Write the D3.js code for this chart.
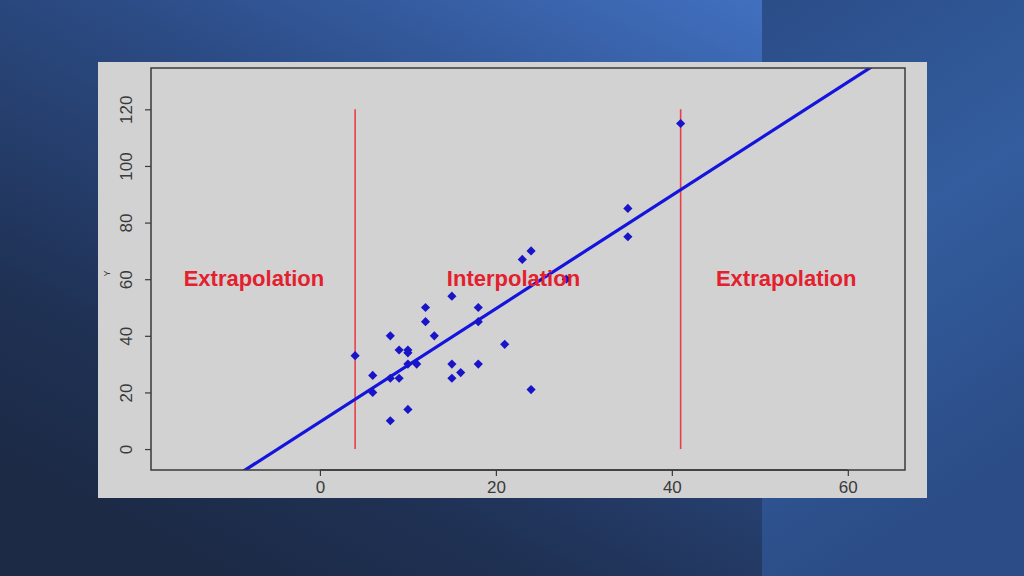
<!DOCTYPE html>
<html>
<head>
<meta charset="utf-8">
<script src="https://cdn.jsdelivr.net/npm/d3@7"></script>
<style>
  body { margin: 0; background: #1e2f50; }
  svg { display: block; }
</style>
</head>
<body>
<div class="graph"></div>
<script>
var xs = [4, 6, 6, 8, 8, 8, 9, 9, 10, 10, 10, 10, 11, 12, 12, 13, 15, 15, 15, 16, 18, 18, 18, 21, 23, 24, 24, 28, 35, 35, 41]
var ys = [33, 26, 20, 40, 10, 25, 35, 25, 35, 34, 30, 14, 30, 50, 45, 40, 54, 30, 25, 27, 50, 45, 30, 37, 67, 70, 21, 60, 85, 75, 115]
var xTicks = [0, 20, 40, 60]
var yTicks = [0, 20, 40, 60, 80, 100, 120]
var cutoffs = [4, 41]
var fitIntercept = 9.6
var fitSlope = 2.0
var labels = ["Extrapolation", "Interpolation", "Extrapolation"]
var labelX = [-7.5, 22, 53]
var labelY = 60

var w = 1024
var h = 576

var svg = d3.select('.graph')
  .append("svg")
  .attr("width", w)
  .attr("height", h)

var defs = svg.append("defs")
var g1 = defs.append("linearGradient").attr("id", "bgLeft")
  .attr("x1", "1").attr("y1", "0").attr("x2", "0.3").attr("y2", "1")
g1.append("stop").attr("offset", "0").attr("stop-color", "#4170c0")
g1.append("stop").attr("offset", "0.4").attr("stop-color", "#2c4c86")
g1.append("stop").attr("offset", "0.8").attr("stop-color", "#1f3154")
g1.append("stop").attr("offset", "1").attr("stop-color", "#1c2a46")
var g2 = defs.append("linearGradient").attr("id", "bgRight")
  .attr("x1", "0").attr("y1", "0").attr("x2", "0.3").attr("y2", "1")
g2.append("stop").attr("offset", "0").attr("stop-color", "#2b4d88")
g2.append("stop").attr("offset", "0.5").attr("stop-color", "#335d9e")
g2.append("stop").attr("offset", "1").attr("stop-color", "#2b4c86")
defs.append("clipPath").attr("id", "plotClip")
  .append("rect").attr("x", 151).attr("y", 68).attr("width", 754).attr("height", 402)

svg.append("rect").attr("width", 762).attr("height", h).attr("fill", "url(#bgLeft)")
svg.append("rect").attr("x", 762).attr("width", w - 762).attr("height", h).attr("fill", "url(#bgRight)")

// grey picture panel
svg.append("rect")
  .attr("x", 98).attr("y", 62)
  .attr("width", 829).attr("height", 436)
  .attr("fill", "#d2d2d2")

var x = d3.scaleLinear().domain([-19.2, 66.5]).range([151, 905])
var y = d3.scaleLinear().domain([-7.4, 134.6]).range([470, 68])

var plot = svg.append("g").attr("clip-path", "url(#plotClip)")

plot.selectAll("line.cut")
  .data(cutoffs)
  .enter()
  .append("line")
  .attr("class", "cut")
  .attr("x1", function(d){ return x(d) })
  .attr("x2", function(d){ return x(d) })
  .attr("y1", y(0))
  .attr("y2", y(120))
  .attr("stroke", "#e8404a")
  .attr("stroke-width", 1.6)

plot.append("line")
  .attr("x1", x(x.domain()[0]))
  .attr("y1", y(fitIntercept + fitSlope * x.domain()[0]))
  .attr("x2", x(x.domain()[1]))
  .attr("y2", y(fitIntercept + fitSlope * x.domain()[1]))
  .attr("stroke", "#1414dc")
  .attr("stroke-width", 3.2)

// R pch 18: filled diamond, same width and height
plot.selectAll("path.pt")
  .data(xs)
  .enter()
  .append("path")
  .attr("class", "pt")
  .attr("d", d3.symbol().type(d3.symbolSquare).size(42))
  .attr("transform", function(d, i){
    return "translate(" + x(d) + "," + y(ys[i]) + ") rotate(45)"
  })
  .attr("fill", "#1a14c8")

svg.selectAll("text.zone")
  .data(labels)
  .enter()
  .append("text")
  .attr("class", "zone")
  .text(function(d){ return d })
  .attr("x", function(d, i){ return x(labelX[i]) })
  .attr("y", y(labelY) + 7)
  .attr("text-anchor", "middle")
  .attr("font-family", "Liberation Sans, Arial, sans-serif")
  .attr("font-weight", "bold")
  .attr("font-size", 22)
  .attr("fill", "#e3202e")

svg.append("rect")
  .attr("x", 151).attr("y", 68)
  .attr("width", 754).attr("height", 402)
  .attr("fill", "none")
  .attr("stroke", "#3a3a3a")
  .attr("stroke-width", 1.5)

var xAxis = svg.append("g")
  .attr("transform", "translate(0,470)")
  .call(d3.axisBottom(x).tickValues(xTicks).tickSize(6).tickPadding(5))
xAxis.select(".domain").attr("stroke", "#3a3a3a").attr("stroke-width", 1.5)
  .attr("d", "M" + x(0) + ",0H" + x(60))
xAxis.selectAll("line").attr("stroke", "#3a3a3a").attr("stroke-width", 1.2)
xAxis.selectAll("text")
  .attr("font-family", "Liberation Sans, Arial, sans-serif")
  .attr("font-size", 17)
  .attr("fill", "#3a3a3a")

var yAxis = svg.append("g")
  .attr("transform", "translate(151,0)")
  .call(d3.axisLeft(y).tickValues(yTicks).tickSize(6))
yAxis.select(".domain").remove()
yAxis.selectAll("line").attr("stroke", "#3a3a3a").attr("stroke-width", 1.2)
yAxis.selectAll("text")
  .attr("x", 0)
  .attr("dy", null)
  .attr("text-anchor", "middle")
  .attr("transform", "translate(-23,0) rotate(-90)")
  .attr("dominant-baseline", "middle")
  .attr("font-family", "Liberation Sans, Arial, sans-serif")
  .attr("font-size", 17)
  .attr("fill", "#3a3a3a")

svg.append("text")
  .text("Y")
  .attr("transform", "translate(108," + y(62) + ") rotate(-90)")
  .attr("text-anchor", "middle")
  .attr("dominant-baseline", "middle")
  .attr("font-family", "Liberation Sans, Arial, sans-serif")
  .attr("font-size", 9)
  .attr("fill", "#3a3a3a")
</script>
</body>
</html>
